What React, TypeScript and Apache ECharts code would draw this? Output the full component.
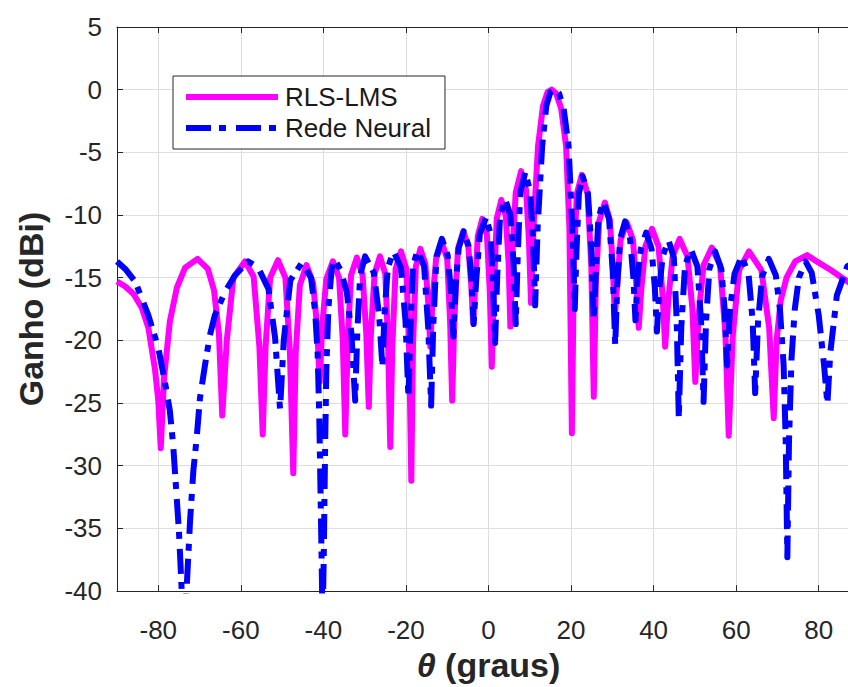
import React, { useEffect, useRef } from "react";
import * as echarts from "echarts";

// RLS-LMS (magenta, solid)
const rlsTheta = [
  -90, -88, -86, -84, -82.4, -80.8, -80.0, -79.4,
  -78.6, -77.2, -75.5, -73.5, -70.5, -68.0, -66.5, -65.3, -64.5,
  -63.4, -61.8, -59.0, -56.9, -55.5, -54.7,
  -54.0, -52.9, -51.0, -49.2, -48.1, -47.3,
  -46.7, -45.7, -44.1, -42.5, -41.5, -40.9,
  -40.3, -39.3, -37.7, -36.2, -35.3, -34.7,
  -34.1, -33.3, -31.9, -30.5, -29.6, -29.0,
  -28.5, -27.6, -26.3, -25.0, -24.3, -23.8,
  -23.3, -22.5, -21.2, -19.9, -19.2, -18.7,
  -18.3, -17.6, -16.5, -15.3, -14.6, -14.1,
  -13.6, -12.7, -11.3, -10.0, -9.3, -8.8,
  -8.3, -7.4, -6.1, -4.9, -4.2, -3.7,
  -3.2, -2.6, -1.5, -0.4, 0.3, 0.8,
  1.3, 2.0, 3.1, 4.2, 4.9, 5.3,
  5.8, 6.6, 7.9, 9.1, 9.8, 10.3,
  10.9, 12.0, 13.2, 14.3, 15.3, 16.4, 17.6, 18.8, 19.6, 20.2,
  20.7, 21.4, 22.6, 24.0, 24.9, 25.5,
  26.0, 26.8, 28.2, 29.4, 30.1, 30.6,
  31.2, 32.0, 33.5, 35.0, 35.8, 36.4,
  37.0, 38.0, 39.6, 41.2, 42.2, 42.8,
  43.5, 44.6, 46.3, 48.2, 49.4, 50.1,
  50.9, 52.1, 54.1, 56.1, 57.4, 58.2,
  59.2, 60.7, 63.1, 66.1, 68.0, 69.1,
  69.8, 70.8, 72.2, 74.3, 77.2, 80.0, 83.0, 86.5, 90.0,
];
const rlsGain = [
  -15.3, -15.7, -16.3, -17.4, -19.0, -22.3, -24.8, -28.6,
  -23.0, -18.5, -15.8, -14.2, -13.5, -14.3, -16.0, -19.5, -26.0,
  -20.0, -15.0, -13.7, -14.9, -20.5, -27.5,
  -20.5, -15.0, -13.6, -15.0, -21.0, -30.6,
  -21.0, -15.6, -14.0, -15.4, -19.0, -23.3,
  -19.0, -15.1, -13.7, -15.0, -20.0, -27.5,
  -20.0, -14.8, -13.4, -14.8, -19.5, -25.3,
  -19.5, -14.7, -13.3, -14.7, -20.5, -28.5,
  -20.5, -14.3, -12.9, -14.3, -21.0, -31.2,
  -20.5, -14.1, -12.7, -13.9, -17.0, -20.5,
  -17.0, -13.5, -12.2, -13.5, -18.5, -24.8,
  -18.5, -12.7, -11.3, -12.5, -15.5, -18.6,
  -15.5, -11.7, -10.3, -11.5, -16.0, -22.1,
  -16.0, -10.3, -8.8, -10.1, -14.0, -18.9,
  -13.0, -8.2, -6.5, -8.0, -12.0, -17.0,
  -11.0, -4.5, -1.3, -0.2, 0.0, -0.3, -1.5, -4.5, -11.0, -27.4,
  -13.5, -8.3, -6.8, -8.3, -14.0, -24.5,
  -15.5, -10.5, -9.0, -10.4, -14.0, -18.0,
  -15.5, -12.0, -10.6, -12.0, -15.5, -19.0,
  -16.0, -12.5, -11.1, -12.5, -16.5, -20.5,
  -17.0, -13.3, -11.9, -13.3, -17.5, -23.3,
  -18.0, -14.0, -12.6, -14.0, -19.5, -27.6,
  -19.5, -14.4, -12.9, -14.4, -19.0, -26.2,
  -20.0, -16.8, -15.0, -13.7, -13.2, -13.8, -14.4, -15.2, -16.0,
];

// Rede Neural (blue, dash-dot)
const nnTheta = [
  -90, -88, -85.6, -82.4, -80.0, -78.4, -77.2, -76.4, -75.0, -74.4, -73.8,
  -73.1, -72.3, -71.5, -70.7, -69.9, -68.7, -67.5, -66.3, -63.8, -61.4, -58.2,
  -55.8, -53.3, -51.7, -50.5,
  -49.6, -48.0, -45.2, -43.0, -42.0, -41.4, -41.0, -40.7, -40.4, -40.2,
  -39.9, -39.6, -39.3, -38.8, -38.0, -37.2,
  -35.8, -34.3, -33.2, -32.3,
  -31.8, -31.1, -29.9, -27.8, -26.5, -25.7,
  -25.2, -24.4, -23.0, -21.2, -20.1, -19.4,
  -18.9, -18.3, -17.2, -15.6, -14.6, -13.9,
  -13.4, -12.6, -11.3, -9.9, -9.1, -8.5,
  -8.0, -7.2, -6.0, -4.8, -4.1, -3.6,
  -3.0, -2.1, -0.6, 0.5, 1.1, 1.6,
  2.1, 2.8, 4.0, 5.3, 6.1, 6.6,
  7.1, 7.7, 8.9, 10.1, 10.8, 11.3,
  11.9, 13.0, 14.0, 15.0, 16.0, 17.1, 18.2, 19.4, 20.3, 20.9,
  21.3, 21.9, 22.8, 24.1, 24.9, 25.5,
  26.0, 26.6, 27.8, 29.2, 30.1, 30.7,
  31.2, 31.9, 33.1, 34.3, 35.1, 35.6,
  36.1, 36.9, 38.2, 39.5, 40.3, 40.8,
  41.4, 42.2, 43.6, 44.9, 45.6, 46.1,
  46.7, 47.6, 49.0, 50.6, 51.5, 52.1,
  52.7, 53.5, 54.9, 56.4, 57.2, 57.8,
  58.5, 59.6, 61.3, 63.0, 64.0, 64.6,
  65.3, 66.3, 67.9, 69.6, 70.6, 71.5, 72.0, 72.4,
  72.8, 73.4, 74.2, 75.2, 76.8,
  78.3, 80.0, 81.3, 82.1,
  82.8, 84.4, 86.9, 90.0,
];
const nnGain = [
  -13.7, -14.3, -15.3, -18.0, -20.6, -23.3, -25.6, -28.3, -35.2, -39.4, -44.0,
  -39.6, -34.4, -30.4, -27.8, -24.6, -22.0, -19.6, -18.0, -16.1, -14.8, -13.7,
  -14.2, -15.9, -19.8, -25.5,
  -20.0, -15.2, -13.8, -15.0, -17.7, -21.0, -26.0, -32.0, -38.0, -43.0,
  -37.0, -29.0, -22.5, -17.5, -14.3, -13.6,
  -14.4, -16.2, -19.5, -24.8,
  -19.5, -14.8, -13.3, -14.6, -18.0, -22.1,
  -18.0, -14.2, -12.9, -14.2, -18.5, -24.6,
  -19.0, -14.1, -12.8, -14.1, -19.0, -25.2,
  -19.0, -13.3, -11.9, -13.2, -16.0, -19.7,
  -15.8, -12.6, -11.3, -12.5, -15.3, -18.7,
  -15.3, -11.5, -10.2, -11.5, -15.5, -20.2,
  -15.0, -10.1, -8.7, -10.0, -14.0, -18.7,
  -13.0, -8.2, -6.6, -8.1, -12.0, -17.2,
  -11.0, -4.5, -1.3, -0.2, 0.0, -0.3, -1.5, -4.5, -11.0, -17.5,
  -13.0, -8.3, -6.9, -8.3, -12.5, -18.3,
  -14.5, -10.3, -8.9, -10.3, -14.5, -20.4,
  -15.5, -11.9, -10.5, -11.9, -15.0, -18.4,
  -15.0, -12.7, -11.4, -12.7, -15.8, -19.3,
  -15.8, -13.3, -12.0, -13.4, -18.5, -26.2,
  -19.0, -14.1, -12.7, -14.1, -18.5, -24.9,
  -18.5, -14.3, -12.9, -14.3, -17.5, -22.0,
  -17.5, -14.7, -13.3, -14.7, -18.5, -24.2,
  -18.5, -14.9, -13.5, -14.8, -17.5, -22.0, -28.0, -37.3,
  -28.0, -21.5, -17.5, -15.0, -13.7,
  -14.6, -18.0, -22.0, -25.1,
  -21.0, -16.4, -14.1, -13.5,
];

const FONT = "'Liberation Sans', Arial, Helvetica, sans-serif";
const AXIS_COLOR = "#262626";
const GRID_COLOR = "#dedede";

export default function App() {
  const ref = useRef<HTMLDivElement>(null);

  useEffect(() => {
    if (!ref.current) return;
    const chart = echarts.init(ref.current, undefined, { renderer: "svg" });
    const rlsData = rlsTheta.map((t, i) => [t, rlsGain[i]]);
    const nnData = nnTheta.map((t, i) => [t, nnGain[i]]);

    const baseX = {
      type: "value" as const,
      min: -90,
      max: 90,
      minInterval: 20,
      maxInterval: 20,
    };

    chart.setOption({
      animation: false,
      backgroundColor: "#ffffff",
      grid: { left: 117, top: 27, width: 743, height: 567, containLabel: false },
      legend: {
        show: true,
        orient: "vertical",
        left: 173,
        top: 76,
        padding: [8, 14, 8, 10],
        itemGap: 5,
        itemWidth: 92,
        itemHeight: 14,
        backgroundColor: "#ffffff",
        borderColor: AXIS_COLOR,
        borderWidth: 1,
        borderRadius: 0,
        selectedMode: false,
        itemStyle: { opacity: 0 },
        lineStyle: { width: 6 },
        textStyle: {
          fontFamily: FONT,
          fontSize: 26,
          color: "#1a1a1a",
          padding: [0, 0, 0, 2],
        },
        data: ["RLS-LMS", "Rede Neural"],
      },
      xAxis: [
        {
          ...baseX,
          position: "bottom",
          axisLine: { show: true, onZero: false, lineStyle: { color: AXIS_COLOR, width: 1 } },
          axisTick: { show: true, inside: true, length: 6, lineStyle: { color: AXIS_COLOR } },
          axisLabel: {
            show: true,
            showMinLabel: false,
            showMaxLabel: false,
            color: AXIS_COLOR,
            fontSize: 26,
            fontFamily: FONT,
            margin: 26,
          },
          splitLine: { show: true, lineStyle: { color: GRID_COLOR, width: 1 } },
          name: "{i|θ} (graus)",
          nameLocation: "middle",
          nameGap: 54,
          nameTextStyle: {
            fontFamily: FONT,
            fontSize: 34,
            fontWeight: "bold",
            color: AXIS_COLOR,
            rich: {
              i: { fontFamily: FONT, fontSize: 34, fontWeight: "bold", fontStyle: "italic", color: AXIS_COLOR },
            },
          },
        },
        {
          ...baseX,
          position: "top",
          axisLine: { show: true, onZero: false, lineStyle: { color: AXIS_COLOR, width: 1 } },
          axisTick: { show: true, inside: true, length: 6, lineStyle: { color: AXIS_COLOR } },
          axisLabel: { show: false },
          splitLine: { show: false },
        },
      ],
      yAxis: {
        type: "value",
        min: -40,
        max: 5,
        interval: 5,
        axisLine: { show: true, onZero: false, lineStyle: { color: AXIS_COLOR, width: 1 } },
        axisTick: { show: true, inside: true, length: 6, lineStyle: { color: AXIS_COLOR } },
        axisLabel: { color: AXIS_COLOR, fontSize: 26, fontFamily: FONT, margin: 15 },
        splitLine: { show: true, lineStyle: { color: GRID_COLOR, width: 1 } },
        name: "Ganho (dBi)",
        nameLocation: "middle",
        nameGap: 69,
        nameTextStyle: { fontFamily: FONT, fontSize: 34, fontWeight: "bold", color: AXIS_COLOR },
      },
      series: [
        {
          name: "RLS-LMS",
          type: "line",
          xAxisIndex: 0,
          data: rlsData,
          symbol: "none",
          clip: true,
          z: 2,
          itemStyle: { color: "#ff00ff" },
          lineStyle: { color: "#ff00ff", width: 6, join: "round" },
        },
        {
          name: "Rede Neural",
          type: "line",
          xAxisIndex: 0,
          data: nnData,
          symbol: "none",
          clip: true,
          z: 3,
          itemStyle: { color: "#0000ff" },
          lineStyle: { color: "#0000ff", width: 6, type: [25, 8, 7, 10], cap: "butt", join: "round" },
        },
      ],
    });

    return () => chart.dispose();
  }, []);

  return (
    <div
      style={{ position: "absolute", left: 0, top: 0, width: 848, height: 687, overflow: "hidden", background: "#fff" }}
    >
      <div ref={ref} style={{ position: "absolute", left: 0, top: 0, width: 880, height: 687 }} />
    </div>
  );
}
